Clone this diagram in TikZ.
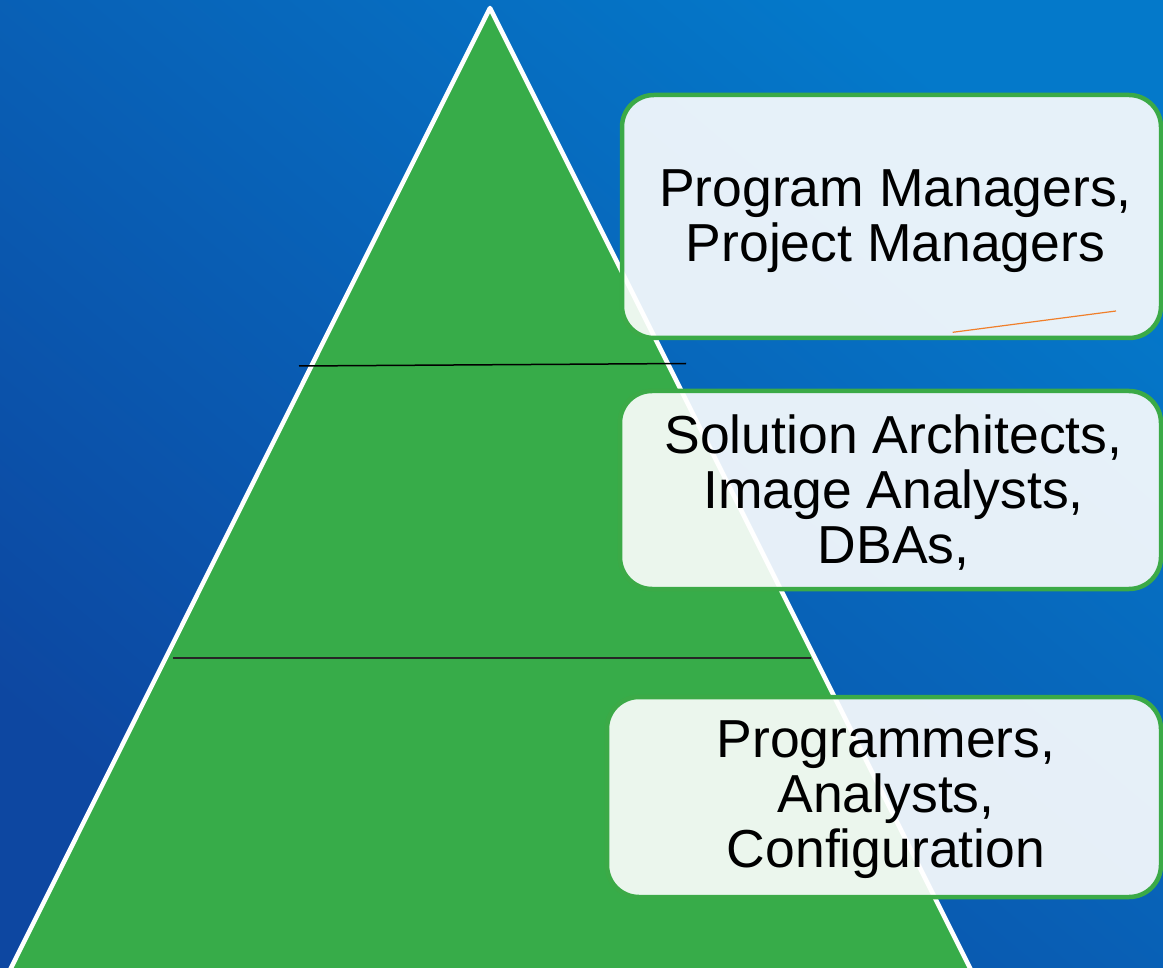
\documentclass[tikz,border=0pt]{standalone}
\usepackage{fontspec}
\setmainfont{Liberation Sans}
\definecolor{bgdark}{HTML}{0D47A1}
\definecolor{bglight}{HTML}{0479CA}
\definecolor{tgreen}{HTML}{37AC49}
\definecolor{bgreen}{HTML}{3BAA47}
\definecolor{lineorange}{HTML}{F07F2A}
\begin{document}
\begin{tikzpicture}[x=1pt,y=-1pt,
  box/.style={draw=bgreen, line width=4.5pt, fill=white, fill opacity=0.9,
    rounded corners=32pt, inner sep=0pt},
  boxtext/.style={align=center, inner sep=0pt, text=black,
    font=\fontsize{53.5}{55}\selectfont},
  divider/.style={draw=black, line width=1.5pt},
  thindivider/.style={draw=black!85, line width=1.1pt},
  accent/.style={draw=lineorange, line width=1.2pt}]
\useasboundingbox (0,0) rectangle (1163,968);
\clip (0,0) rectangle (1163,968);
\shade[bottom color=bgdark, top color=bglight, shading angle=-40] (-10,-10) rectangle (1173,978);
% pyramid
\coordinate (apex) at (490,8);
\coordinate (bl) at (7.5,975);
\coordinate (br) at (973.5,975);
\draw[fill=tgreen, draw=white, line width=4.5pt, line join=round] (apex) -- (bl) -- (br) -- cycle;
% dividers
\coordinate (l1a) at (299,366);
\coordinate (l1b) at (686,363.5);
\coordinate (l2a) at (173,658);
\coordinate (l2b) at (811,658);
\draw[divider] (l1a) -- (l1b);
\draw[thindivider] (l2a) -- (l2b);
% boxes
\node[box, minimum width=539pt, minimum height=243pt] (pmbox) at (891.5,216.5) {};
\node[box, minimum width=541pt, minimum height=198pt] (sabox) at (890.5,490) {};
\node[box, minimum width=554pt, minimum height=200pt] (prbox) at (884,797) {};
\node[boxtext, xshift=4pt, yshift=-5pt] (pm) at (pmbox.center) {Program Managers,\\Project Managers};
\node[boxtext, xshift=3pt, yshift=-3pt] (sa) at (sabox.center) {Solution Architects,\\Image Analysts,\\DBAs,};
\node[boxtext, xshift=2pt, yshift=-3pt] (pr) at (prbox.center) {Programmers,\\Analysts,\\Configuration};
% orange stroke
\coordinate (o1) at (952.7,332.3);
\coordinate (o2) at (1116,311);
\draw[accent] (o1) -- (o2);
\end{tikzpicture}
\end{document}
